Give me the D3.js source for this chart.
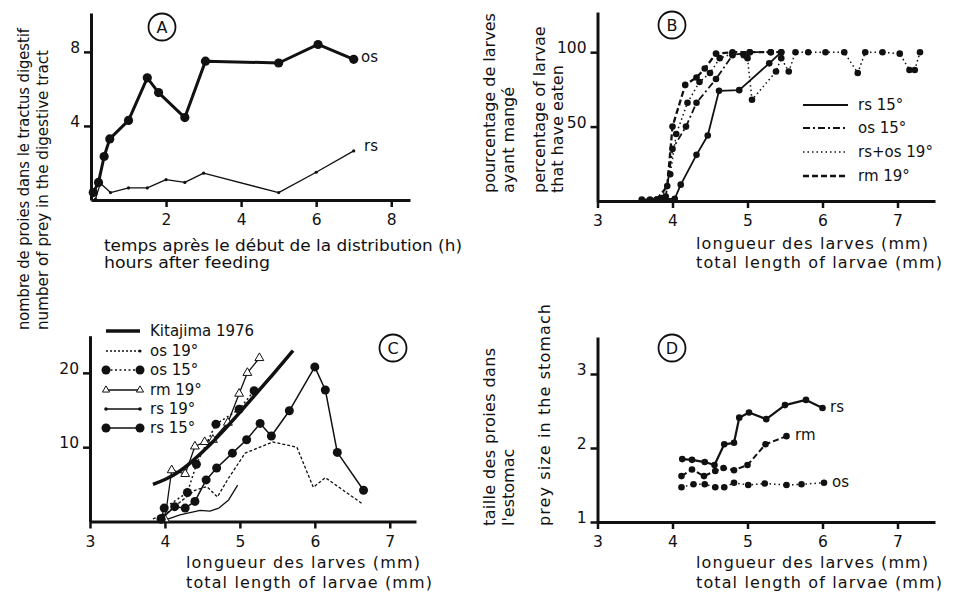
<!DOCTYPE html>
<html>
<head>
<meta charset="utf-8">
<script src="https://cdn.jsdelivr.net/npm/d3@7"></script>
<style>
  body { margin: 0; background: #fff; }
  text { font-family: "DejaVu Sans", sans-serif; fill: #111; }
</style>
</head>
<body>
<div id="fig"></div>
<script>
// ---------- data ----------
// A : number of prey in the digestive tract vs hours after feeding
var hoursOs = [0.06, 0.2, 0.35, 0.5, 1.0, 1.5, 1.8, 2.5, 3.05, 5.0, 6.05, 7.0];
var preyOs  = [0.4, 0.95, 2.35, 3.3, 4.3, 6.6, 5.8, 4.45, 7.5, 7.4, 8.4, 7.6];
var hoursRs = [0.12, 0.25, 0.52, 1.0, 1.5, 2.0, 2.5, 3.0, 5.0, 6.0, 7.0];
var preyRs  = [0.05, 0.9, 0.4, 0.65, 0.65, 1.1, 0.95, 1.45, 0.4, 1.5, 2.65];

// B : percentage of larvae that have eaten vs total length (mm)
var lenRs15 = [3.59, 3.79, 4.03, 4.11, 4.32, 4.47, 4.62, 4.89, 5.29, 5.45];
var pctRs15 = [1, 1, 1.5, 11, 31, 44, 74, 74.5, 92.5, 100];
var lenOs15 = [3.70, 3.91, 4.0, 4.18, 4.32, 4.58, 4.8, 5.03, 5.31];
var pctOs15 = [1, 3, 35, 50, 66, 82, 98, 100, 100];
var lenRsOs19 = [3.86, 3.97, 4.05, 4.2, 4.36, 4.5, 4.63, 4.8, 4.95, 5.0, 5.06, 5.38, 5.45, 5.55, 5.64, 5.81, 6.04, 6.29, 6.47, 6.57, 6.8, 7.03, 7.16, 7.23, 7.3];
var pctRsOs19 = [2, 18, 45, 66, 80, 86, 96, 99, 98, 96, 68, 87, 96, 87, 100, 100, 100, 100, 86, 100, 100, 99, 88, 88, 100];
var lenRm19 = [3.79, 3.93, 4.0, 4.17, 4.32, 4.43, 4.58, 4.8, 5.03, 5.31, 5.45];
var pctRm19 = [1, 10, 50, 78, 83, 89, 99, 100, 100, 100, 100];

// C : number of prey vs total length (mm)
var lenKita  = [3.84, 4.0, 4.2, 4.4, 4.6, 4.8, 5.0, 5.2, 5.4, 5.6, 5.71];
var preyKita = [5.0, 5.6, 6.7, 8.4, 10.3, 12.4, 14.7, 17.0, 19.3, 21.7, 23.0];
var lenCOs19  = [3.84, 4.02, 4.2, 4.4, 4.56, 4.7, 4.84, 5.07, 5.44, 5.76, 5.98, 6.14, 6.64];
var preyCOs19 = [0.35, 1.1, 2.6, 4.2, 4.7, 3.3, 5.7, 9.2, 10.7, 10.0, 4.6, 5.9, 2.35];
var lenCOs15  = [3.95, 3.99, 4.3, 4.42, 4.68, 4.99, 5.19];
var preyCOs15 = [0.4, 1.8, 3.9, 7.7, 13.1, 15.1, 17.6];
var lenCRm19  = [4.0, 4.09, 4.27, 4.4, 4.53, 4.64, 4.84, 4.99, 5.1, 5.26];
var preyCRm19 = [0.3, 6.9, 6.4, 10.1, 10.7, 11.0, 13.3, 17.2, 20.0, 22.0];
var lenCRs19  = [4.0, 4.2, 4.47, 4.6, 4.72, 4.85, 4.97];
var preyCRs19 = [0.2, 0.9, 1.5, 1.4, 1.8, 2.9, 4.9];
var lenCRs15  = [3.95, 4.13, 4.27, 4.4, 4.55, 4.69, 4.9, 5.09, 5.27, 5.42, 5.66, 6.0, 6.14, 6.3, 6.65];
var preyCRs15 = [0.3, 2.0, 1.8, 2.7, 5.6, 7.2, 9.2, 11.0, 13.2, 11.5, 14.9, 20.8, 17.7, 9.3, 4.2];

// D : prey size in the stomach vs total length (mm)
var lenDRs  = [4.13, 4.26, 4.43, 4.56, 4.69, 4.82, 4.89, 5.02, 5.25, 5.5, 5.78, 6.0];
var sizeDRs = [1.85, 1.84, 1.81, 1.77, 2.05, 2.07, 2.41, 2.48, 2.39, 2.58, 2.65, 2.54];
var lenDRm  = [4.12, 4.26, 4.42, 4.57, 4.68, 4.82, 5.0, 5.24, 5.52];
var sizeDRm = [1.62, 1.71, 1.62, 1.69, 1.73, 1.70, 1.77, 2.05, 2.16];
var lenDOs  = [4.12, 4.28, 4.43, 4.57, 4.69, 4.82, 5.01, 5.23, 5.52, 5.72, 6.02];
var sizeDOs = [1.47, 1.51, 1.51, 1.47, 1.47, 1.53, 1.50, 1.52, 1.50, 1.51, 1.53];

// tick values
var ticksHours = [2, 4, 6, 8];
var ticksPreyA = [4, 8];
var ticksLen = [3, 4, 5, 6, 7];
var ticksPct = [50, 100];
var ticksPreyC = [10, 20];
var ticksSize = [1, 2, 3];

// ---------- drawing ----------
var svg = d3.select("#fig")
  .append("svg")
    .attr("width", 953)
    .attr("height", 595);

function makePanel(px, py, xd, yd, xt, yt) {
  var p = {};
  p.x = d3.scaleLinear().domain(xd).range(px);
  p.y = d3.scaleLinear().domain(yd).range(py);
  p.g = svg.append("g");

  var xa = p.g.append("g")
    .attr("transform", "translate(0," + py[0] + ")")
    .call(d3.axisBottom(p.x).tickValues(xt).tickFormat(d3.format("d"))
      .tickSize(7).tickSizeOuter(0).tickPadding(7));
  var ya = p.g.append("g")
    .attr("transform", "translate(" + px[0] + ",0)")
    .call(d3.axisLeft(p.y).tickValues(yt).tickFormat(d3.format("d"))
      .tickSize(7).tickSizeOuter(0).tickPadding(4));
  ya.selectAll(".tick text").attr("dy", "0.05em");

  [xa, ya].forEach(function(a) {
    a.attr("font-size", 15.5).attr("font-family", "DejaVu Sans, sans-serif");
    a.select(".domain").attr("stroke", "#111").attr("stroke-width", 3);
    a.selectAll(".tick line").attr("stroke", "#111").attr("stroke-width", 2.5);
    a.selectAll(".tick text").attr("fill", "#111");
  });
  return p;
}

function drawSeries(p, xs, ys, st) {
  var pts = xs.map(function(v, i) { return [v, ys[i]]; });
  var line = d3.line()
    .x(function(d) { return p.x(d[0]); })
    .y(function(d) { return p.y(d[1]); });
  if (st.curve) line.curve(d3.curveBasis);
  p.g.append("path")
    .datum(pts)
    .attr("fill", "none")
    .attr("stroke", "#111")
    .attr("stroke-width", st.w)
    .attr("stroke-dasharray", st.dash || null)
    .attr("stroke-linejoin", "round")
    .attr("d", line);
  if (st.dot) {
    p.g.selectAll(null)
      .data(pts)
      .enter()
      .append("circle")
        .attr("cx", function(d) { return p.x(d[0]); })
        .attr("cy", function(d) { return p.y(d[1]); })
        .attr("r", st.dot)
        .attr("fill", "#111");
  }
  if (st.tri) {
    p.g.selectAll(null)
      .data(pts)
      .enter()
      .append("path")
        .attr("d", d3.symbol(d3.symbolTriangle, st.tri))
        .attr("transform", function(d) { return "translate(" + p.x(d[0]) + "," + p.y(d[1]) + ")"; })
        .attr("fill", "#fff")
        .attr("stroke", "#111")
        .attr("stroke-width", 1);
  }
}

// len: target length; squeeze: also scale glyphs (otherwise only spacing)
function txt(s, x, y, size, len, rot, squeeze) {
  var t = svg.append("text")
    .attr("font-size", size)
    .text(s);
  if (rot) t.attr("transform", "translate(" + x + "," + y + ") rotate(-90)");
  else t.attr("x", x).attr("y", y);
  if (len) t.attr("textLength", len).attr("lengthAdjust", squeeze ? "spacingAndGlyphs" : "spacing");
  return t;
}

function badge(s, cx, cy) {
  svg.append("circle")
    .attr("cx", cx).attr("cy", cy).attr("r", 13.5)
    .attr("fill", "none").attr("stroke", "#111").attr("stroke-width", 1.8);
  svg.append("text")
    .attr("x", cx).attr("y", cy + 6)
    .attr("text-anchor", "middle")
    .attr("font-size", 16)
    .text(s);
}

// Panel A
var pA = makePanel([91, 410], [200, 13], [0, 8.5], [0, 10.1], ticksHours, ticksPreyA);
drawSeries(pA, hoursRs, preyRs, {w: 1.3, dot: 1.6});
drawSeries(pA, hoursOs, preyOs, {w: 3, dot: 4.6});
txt("os", 361, 62, 15);
txt("rs", 364, 151, 15);
badge("A", 162, 27);
txt("temps après le début de la distribution (h)", 104, 251, 15.5, 358, false, true);
txt("hours after feeding", 104, 268, 15.5, 166, false, true);

// Panel B
var pB = makePanel([597.5, 935], [201, 12], [3, 7.5], [0, 127], ticksLen, ticksPct);
drawSeries(pB, lenRsOs19, pctRsOs19, {w: 1.5, dash: "1.5,3", dot: 3.3});
drawSeries(pB, lenOs15, pctOs15, {w: 1.8, dash: "7,3,2,3", dot: 3.3});
drawSeries(pB, lenRm19, pctRm19, {w: 2.3, dash: "6,3", dot: 3.3});
drawSeries(pB, lenRs15, pctRs15, {w: 1.8, dot: 3.3});
badge("B", 672, 25);
var legB = [["rs 15°", null, 1.8], ["os 15°", "7,3,2,3", 1.8], ["rs+os 19°", "1.5,3", 1.5], ["rm 19°", "6,3", 2.3]];
var legBy = [105, 128, 152, 176];
legB.forEach(function(d, i) {
  svg.append("line")
    .attr("x1", 803).attr("x2", 848)
    .attr("y1", legBy[i]).attr("y2", legBy[i])
    .attr("stroke", "#111").attr("stroke-width", d[2])
    .attr("stroke-dasharray", d[1]);
  txt(d[0], 858, legBy[i] + 5, 15);
});
txt("longueur des larves (mm)", 696, 249, 16, 232);
txt("total length of larvae (mm)", 696, 268, 16, 246);

// Panel C
var pC = makePanel([90, 416], [521.5, 335.7], [3, 7.35], [0, 25], ticksLen, ticksPreyC);
drawSeries(pC, lenCOs19, preyCOs19, {w: 1.3, dash: "3,2"});
drawSeries(pC, lenCRs19, preyCRs19, {w: 1.3});
drawSeries(pC, lenCOs15, preyCOs15, {w: 1.5, dash: "2,2.5", dot: 4.5});
drawSeries(pC, lenCRm19, preyCRm19, {w: 1.3, tri: 34});
drawSeries(pC, lenCRs15, preyCRs15, {w: 1.5, dot: 4.5});
drawSeries(pC, lenKita, preyKita, {w: 3.5, curve: true});
badge("C", 393, 348);
var legC = [
  {t: "Kitajima 1976", w: 3.5},
  {t: "os 19°", w: 1.3, dash: "2,2", end: 1.5},
  {t: "os 15°", w: 1.3, dash: "2,2.5", dot: 4.5},
  {t: "rm 19°", w: 1.3, tri: 22},
  {t: "rs 19°", w: 1.3, dot: 1.8},
  {t: "rs 15°", w: 1.5, dot: 4.5}
];
var legCy = [331, 351, 370, 390, 409, 428];
legC.forEach(function(d, i) {
  var yy = legCy[i];
  svg.append("line")
    .attr("x1", 106).attr("x2", 140)
    .attr("y1", yy).attr("y2", yy)
    .attr("stroke", "#111").attr("stroke-width", d.w)
    .attr("stroke-dasharray", d.dash || null);
  if (d.dot) {
    [106, 140].forEach(function(xx) {
      svg.append("circle").attr("cx", xx).attr("cy", yy).attr("r", d.dot).attr("fill", "#111");
    });
  }
  if (d.end) svg.append("circle").attr("cx", 140).attr("cy", yy).attr("r", d.end).attr("fill", "#111");
  if (d.tri) {
    [106, 140].forEach(function(xx) {
      svg.append("path").attr("d", d3.symbol(d3.symbolTriangle, d.tri))
        .attr("transform", "translate(" + xx + "," + yy + ")")
        .attr("fill", "#fff").attr("stroke", "#111").attr("stroke-width", 1);
    });
  }
  txt(d.t, 150, yy + 5, 15);
});
txt("longueur des larves (mm)", 186, 568, 16, 234);
txt("total length of larvae (mm)", 186, 588, 16, 246);

// Panel D
var pD = makePanel([597.5, 935], [522, 337], [3, 7.5], [1, 3.5], ticksLen, ticksSize);
drawSeries(pD, lenDOs, sizeDOs, {w: 1.5, dash: "1.5,3", dot: 3.3});
drawSeries(pD, lenDRm, sizeDRm, {w: 2, dash: "6,3", dot: 3.3});
drawSeries(pD, lenDRs, sizeDRs, {w: 2.2, dot: 3.3});
txt("rs", 830, 412, 15);
txt("rm", 795, 440, 15);
txt("os", 832, 487, 15);
badge("D", 672, 348);
txt("longueur des larves (mm)", 696, 568, 16, 232);
txt("total length of larvae (mm)", 696, 588, 16, 246);

// rotated axis titles
txt("nombre de proies dans le tractus digestif", 29, 330, 15, 302, true, true);
txt("number of prey in the digestive tract", 48, 330, 15, 280, true, true);
txt("pourcentage de larves", 495, 193, 16, null, true);
txt("ayant  mangé", 514, 193, 16, null, true);
txt("percentage of larvae", 545, 193, 16, null, true);
txt("that have eaten", 563, 193, 16, null, true);
txt("taille des proies dans", 495, 526, 16, 178, true);
txt("l'estomac", 514, 526, 16, null, true);
txt("prey size in the stomach", 550, 526, 16, 222, true);
</script>
</body>
</html>
